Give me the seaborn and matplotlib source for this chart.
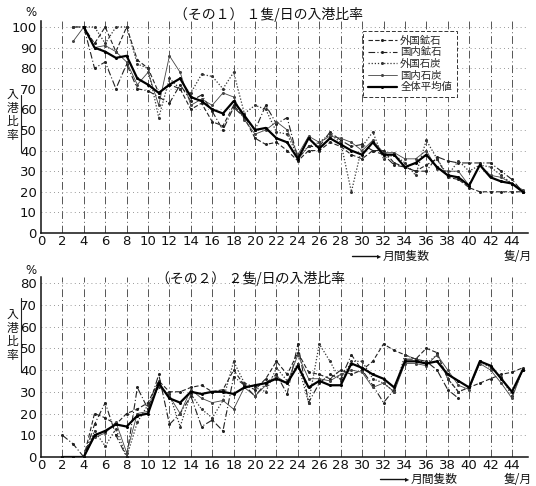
import numpy as np
import pandas as pd
import matplotlib
matplotlib.use("Agg")
import matplotlib.pyplot as plt
import seaborn as sns

sns.set_theme(style="white")
plt.rcParams['font.family'] = ['DejaVu Sans', 'Noto Sans CJK JP']
JP = ['Noto Sans CJK JP', 'DejaVu Sans']

nan = np.nan
ships = list(range(2, 46))  # 月間隻数 2..45

labels = ["外国鉱石", "国内鉱石", "外国石炭", "国内石炭", "全体平均値"]

# その1: 1隻/日の入港比率 (%)
p1_foreign_ore = [nan, nan, 100, 92, 100, 88, 100, 84, 80, 68, 72, 70, 60, 63, 54, 52, 62, 56, 46, 43, 44, 40,
                  35, 40, 40, 44, 42, 38, 36, 40, 40, 34, 32, 30, 33, 36, 27, 26, 22, 20, 20, 20, 20, 20]
p1_domestic_ore = [nan, 100, 100, 80, 83, 70, 82, 70, 69, 66, 63, 72, 64, 67, 59, 50, 61, 56, 50, 62, 53, 56,
                   36, 42, 42, 49, 45, 42, 43, 40, 38, 33, 32, 30, 30, 37, 35, 34, 34, 34, 34, 30, 26, 20]
p1_foreign_coal = [nan, 100, 100, 100, 92, 100, 100, 82, 80, 56, 75, 70, 68, 77, 76, 70, 78, 58, 62, 60, 49, 48,
                   37, 42, 44, 48, 44, 20, 42, 49, 36, 38, 34, 28, 45, 36, 28, 35, 30, 33, 32, 28, 24, 20]
p1_domestic_coal = [nan, 93, 100, 90, 91, 88, 83, 72, 78, 62, 86, 78, 62, 65, 62, 68, 66, 55, 48, 50, 54, 50,
                    38, 47, 44, 47, 46, 44, 40, 45, 39, 39, 36, 36, 40, 31, 30, 30, 23, 33, 28, 27, 24, 21]
p1_average = [nan, nan, 100, 90, 88, 85, 86, 75, 72, 68, 72, 75, 66, 64, 60, 58, 64, 57, 50, 51, 46, 44,
              36, 46, 41, 46, 43, 40, 38, 44, 38, 38, 32, 34, 38, 32, 28, 27, 23, 33, 27, 25, 24, 20]

# その2: 2隻/日の入港比率 (%)
p2_foreign_ore = [nan, nan, 0, 20, 18, 15, 20, 22, 25, 35, 30, 30, 32, 33, 30, 31, 40, 33, 31, 36, 44, 38,
                  48, 39, 38, 36, 40, 38, 40, 44, 52, 49, 47, 45, 50, 48, 36, 30, 32, 34, 36, 38, 39, 41]
p2_domestic_ore = [10, 6, 0, 15, 25, 10, 0, 32, 22, 38, 15, 20, 28, 14, 17, 12, 37, 33, 28, 34, 38, 29,
                   52, 25, 34, 38, 36, 47, 40, 33, 25, 31, 45, 45, 44, 40, 31, 27, nan, nan, nan, nan, nan, nan]
p2_foreign_coal = [nan, nan, 0, 12, 5, 13, 0, 16, 24, 32, 29, 14, 29, 22, 18, 26, 44, 34, 32, 30, 41, 35,
                   43, 25, 52, 44, 35, 44, 44, 36, 34, 30, 47, 45, 43, 47, 36, 30, 32, 44, 41, 37, 28, 40]
p2_domestic_coal = [0, 0, 0, 9, 11, 16, 2, 20, 21, 33, 28, 20, 31, 27, 25, 26, 22, 32, 28, 33, 37, 34,
                    47, 36, 36, 35, 38, 40, 39, 32, 34, 30, 43, 43, 42, 47, 40, 33, 31, 43, 40, 34, 27, 40]
p2_average = [0, 0, 0, 10, 12, 15, 14, 19, 20, 34, 27, 25, 30, 29, 30, 30, 29, 32, 33, 34, 36, 34,
              42, 32, 35, 33, 33, 43, 41, 38, 36, 32, 44, 44, 43, 44, 38, 35, 32, 44, 42, 36, 30, 40]

styles = {
    "外国鉱石": dict(linestyle=(0, (4, 2)), linewidth=0.8, color="#222222"),
    "国内鉱石": dict(linestyle=(0, (6, 2, 1, 2)), linewidth=0.8, color="#222222"),
    "外国石炭": dict(linestyle=(0, (1, 1.5)), linewidth=0.9, color="#333333"),
    "国内石炭": dict(linestyle="-", linewidth=0.6, color="#444444"),
    "全体平均値": dict(linestyle="-", linewidth=1.6, color="#000000"),
}


def draw_panel(ax, series, ymax, ytick_max):
    df = pd.DataFrame({"隻数": ships})
    for name, vals in zip(labels, series):
        df[name] = vals
    long = df.melt(id_vars="隻数", var_name="品目", value_name="比率").dropna()
    for name in labels:
        sub = long[long["品目"] == name]
        sns.lineplot(data=sub, x="隻数", y="比率", ax=ax, marker="o", markersize=2.2,
                     markeredgewidth=0, label=name, legend=False, **styles[name])
    ax.set_xlim(0, 45.5)
    ax.set_ylim(0, ymax)
    ax.set_xticks(range(0, 46, 2))
    ax.set_yticks(range(0, ytick_max + 1, 10))
    ax.tick_params(length=0, labelsize=9.5, colors="#111111")
    ax.tick_params(axis="x", pad=1.5)
    ax.tick_params(axis="y", pad=3)
    for x in range(2, 45, 2):
        ax.axvline(x, color="#555555", lw=0.7, linestyle=(0, (8, 3, 1, 3)), zorder=0)
    for y in range(10, ytick_max + 1, 10):
        ax.axhline(y, color="#777777", lw=0.6, linestyle=(0, (1, 4)), zorder=0)
    for s in ("top", "right"):
        ax.spines[s].set_visible(False)
    for s in ("left", "bottom"):
        ax.spines[s].set_color("#111111")
        ax.spines[s].set_linewidth(1.1)
    ax.set_xlabel("")
    ax.set_ylabel("")


fig = plt.figure(figsize=(5.36, 4.86), dpi=100)
W, H = 536, 486
ax1 = fig.add_axes([41 / W, 1 - 233 / H, 487 / W, 212 / H])
ax2 = fig.add_axes([41 / W, 1 - 457 / H, 487 / W, 180 / H])

draw_panel(ax1, [p1_foreign_ore, p1_domestic_ore, p1_foreign_coal, p1_domestic_coal, p1_average], 102.9, 100)
draw_panel(ax2, [p2_foreign_ore, p2_domestic_ore, p2_foreign_coal, p2_domestic_coal, p2_average], 82.8, 80)

# 凡例
handles, lbls = ax1.get_legend_handles_labels()
leg = fig.legend(handles, lbls, loc="upper left", bbox_to_anchor=(358 / W, 1 - 26 / H),
                 prop={"family": JP, "size": 7.5}, handlelength=2.8, handletextpad=0.3,
                 labelspacing=0.15, borderpad=0.45, frameon=True, fancybox=False, framealpha=1)
leg.get_frame().set_edgecolor("#333333")
leg.get_frame().set_linewidth(0.7)
leg.get_frame().set_linestyle((0, (4, 2)))

# タイトル
fig.text(268 / W, 1 - 15 / H, "（その１） １隻/日の入港比率", family=JP, fontsize=10,
         ha="center", va="center", color="#111111")
fig.text(250 / W, 1 - 278 / H, "（その２） ２隻/日の入港比率", family=JP, fontsize=10,
         ha="center", va="center", color="#111111")

# 縦軸の単位と見出し
for y_pct, y_lab, bar in ((12, 115, (95, 152)), (270, 335, (298, 372))):
    fig.text(37 / W, 1 - y_pct / H, "%", fontsize=8.5, ha="right", va="center", color="#111111")
    fig.text(12 / W, 1 - y_lab / H, "入\n港\n比\n率", family=JP, fontsize=8.5,
             ha="center", va="center", linespacing=1.05, color="#111111")
    fig.add_artist(plt.Line2D([21 / W, 21 / W], [1 - bar[0] / H, 1 - bar[1] / H],
                              transform=fig.transFigure, color="#222222", lw=0.8))

# 横軸の見出し
for y_ax, x0 in ((256, 352), (479, 380)):
    fig.add_artist(plt.Line2D([x0 / W, (x0 + 26) / W], [1 - y_ax / H, 1 - y_ax / H],
                              transform=fig.transFigure, color="#111111", lw=1.0))
    fig.text(x0 / W + 27 / W, 1 - y_ax / H, "▸", family=JP, fontsize=6, ha="center",
             va="center", color="#111111")
    fig.text((x0 + 31) / W, 1 - y_ax / H, "月間隻数", family=JP, fontsize=8.5,
             ha="left", va="center", color="#111111")
    fig.text(532 / W, 1 - y_ax / H, "隻/月", family=JP, fontsize=8.5,
             ha="right", va="center", color="#111111")

fig.savefig("out.png", dpi=100, facecolor="white")
